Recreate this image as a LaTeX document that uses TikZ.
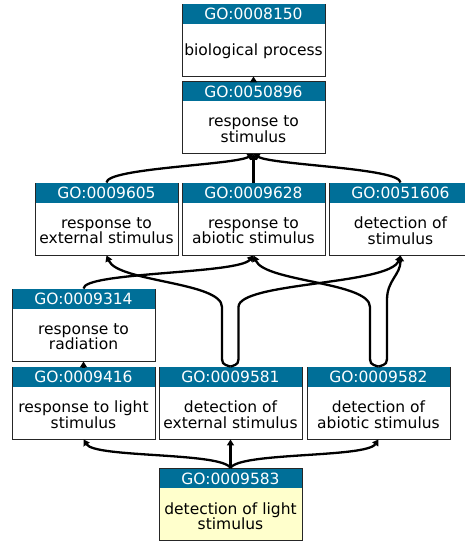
\documentclass[tikz,border=0pt]{standalone}
\usepackage{fontspec}
\setmainfont{DejaVu Sans}
\usetikzlibrary{arrows.meta}
\definecolor{gohead}{RGB}{0,111,152}
\definecolor{goleaf}{RGB}{255,255,204}

\begin{document}
\begin{tikzpicture}[x=1pt,y=-1pt,
  every node/.style={font=\fontsize{15.5}{15.5}\selectfont},
  term/.style={draw=black!85,line width=0.9pt,minimum width=143pt,minimum height=72pt,inner sep=0pt},
  head/.style={fill=gohead,text=white,minimum width=142pt,minimum height=19.5pt,inner sep=0pt,anchor=north},
  isa/.style={line width=2.3pt,-{Triangle[length=6pt,width=7pt]}}]
\useasboundingbox (0,0) rectangle (465,541);

\foreach \id/\x/\y/\c/\txt in {0008150/253.5/40/white/biological process,
    0050896/253.5/117.5/white/{response to\\stimulus},
    0009605/106.5/219/white/{response to\\external stimulus},
    0009628/253.5/219/white/{response to\\abiotic stimulus},
    0051606/400.5/219/white/{detection of\\stimulus},
    0009314/83.5/325/white/{response to\\radiation},
    0009416/83.5/403/white/{response to light\\stimulus},
    0009581/230.5/403/white/{detection of\\external stimulus},
    0009582/378.5/403/white/{detection of\\abiotic stimulus},
    0009583/230.5/504.5/goleaf/{detection of light\\stimulus}} {
  \node[term,fill=\c] (t\id) at (\x,\y) {};
  \node[head] (h\id) at ([yshift=-0.45pt]t\id.north) {GO:\id};
  \node[align=center,inner sep=0pt] (l\id) at (\x,\y+11.5) {\txt};
}

% is_a links
\draw[isa] (t0050896.north) -- (t0008150.south);
\draw[isa] (t0009628.north) -- (t0050896.south);
\draw[isa] (t0009605.north) .. controls (106.5,168) and (235,165) .. (t0050896.south);
\draw[isa] (t0051606.north) .. controls (400.5,168) and (272,165) .. (t0050896.south);
\draw[isa] (t0009314.north) .. controls (83.5,272) and (238,274) .. (t0009628.south);
\draw[isa] (t0009581.north) .. controls (222,364) .. (222,354) -- (222,307)
  .. controls (222,282) and (118,282) .. (t0009605.south);
\draw[isa] (t0009581.north) .. controls (238.5,364) .. (238.5,354) -- (238.5,307)
  .. controls (238.5,282) and (390,285) .. (t0051606.south);
\draw[isa] (t0009582.north) .. controls (370,364) .. (370,354) -- (370,307)
  .. controls (370,282) and (265,282) .. (t0009628.south);
\draw[isa] (t0009582.north) .. controls (387,364) .. (387,354) -- (387,300)
  .. controls (387,280) and (400.5,275) .. (t0051606.south);
\draw[isa] (t0009416.north) -- (t0009314.south);
\draw[isa] (t0009583.north) -- (t0009581.south);
\draw[isa] (t0009583.north) .. controls (222,452) and (95,458) .. (t0009416.south);
\draw[isa] (t0009583.north) .. controls (239,452) and (366,458) .. (t0009582.south);

\end{tikzpicture}
\end{document}
